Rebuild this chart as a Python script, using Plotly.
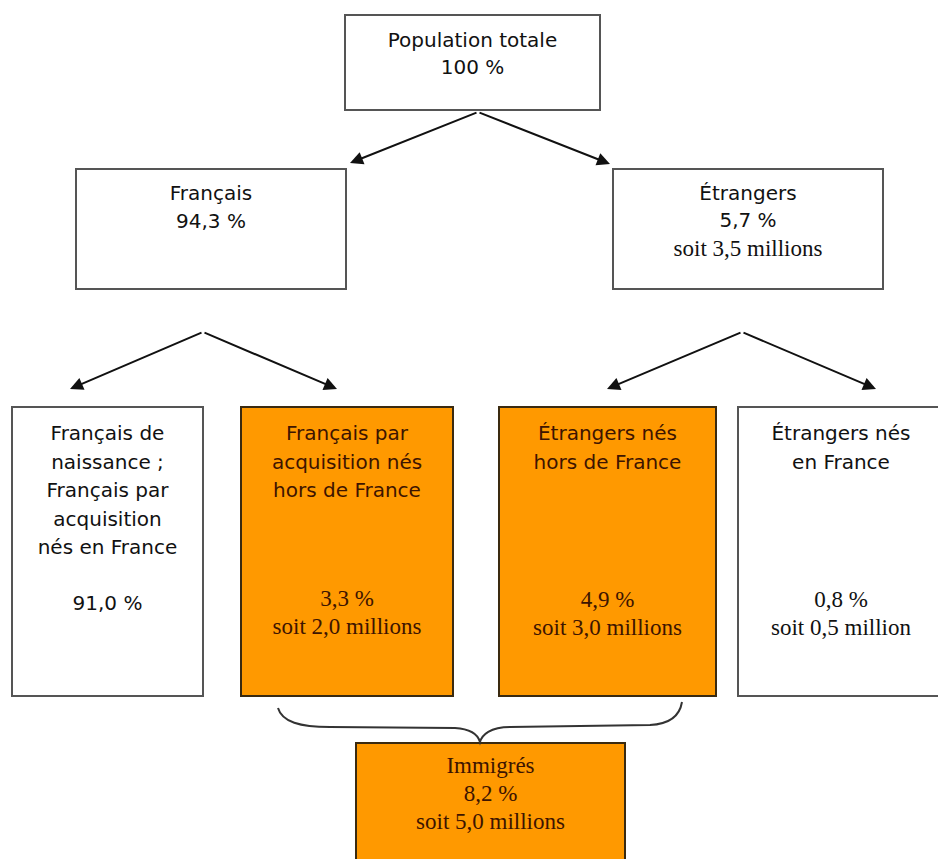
import plotly.graph_objects as go

# ---------------- data ----------------
categories = [
    "Population totale",
    "Français",
    "Étrangers",
    "Français de<br>naissance ;<br>Français par<br>acquisition<br>nés en France",
    "Français par<br>acquisition nés<br>hors de France",
    "Étrangers nés<br>hors de France",
    "Étrangers nés<br>en France",
    "Immigrés",
]
shares = [100, 94.3, 5.7, 91.0, 3.3, 4.9, 0.8, 8.2]
millions = [None, None, 3.5, None, 2.0, 3.0, 0.5, 5.0]
highlight = [False, False, False, False, True, True, False, True]

# ---------------- layout (pixel coordinates of the page) ----------------
W, H = 946, 859
OFF = 8  # default page body margin
boxes = [  # x0, y0, x1, y1
    (345, 15, 600, 110),
    (76, 169, 346, 289),
    (613, 169, 883, 289),
    (12, 407, 203, 696),
    (241, 407, 453, 696),
    (499, 407, 716, 696),
    (738, 407, 960, 696),
    (356, 743, 625, 880),
]
label_y0 = [42, 195, 195, 435, 435, 435, 435, 767]
value_y = [69, 223, 222, 605, 600, 601, 601, 795]
label_serif = [False, False, False, False, False, False, False, True]
value_serif = [False, False, False, False, True, True, True, True]
LINE = 28.5

ORANGE = "#FF9900"
BROWN = "#3d1400"
SANS = "DejaVu Sans"
SERIF = "Liberation Serif"
SANS_SIZE = 20
SERIF_SIZE = 23


def fr(v):
    return f"{v:.1f}".replace(".", ",") if v < 100 else f"{int(v)}"


fig = go.Figure()
shapes = []
for i, (x0, y0, x1, y1) in enumerate(boxes):
    shapes.append(dict(
        type="rect", x0=x0, y0=y0, x1=x1, y1=y1, xref="x", yref="y",
        fillcolor=ORANGE if highlight[i] else "white",
        line=dict(color="#3a2a10" if highlight[i] else "#555555", width=2),
        layer="below",
    ))

for i, (x0, y0, x1, y1) in enumerate(boxes):
    cx = (x0 + min(x1, 944)) / 2
    col = BROWN if highlight[i] else "#111111"
    lines = categories[i].split("<br>")
    fig.add_trace(go.Scatter(
        x=[cx] * len(lines), y=[label_y0[i] + k * LINE for k in range(len(lines))],
        text=lines, mode="text", hoverinfo="skip", showlegend=False,
        textfont=dict(family=SERIF if label_serif[i] else SANS,
                      size=SERIF_SIZE if label_serif[i] else SANS_SIZE, color=col),
    ))
    vals = [fr(shares[i]) + " %"]
    if millions[i] is not None:
        unit = "million" if millions[i] < 1 else "millions"
        vals.append("soit " + fr(millions[i]) + " " + unit)
    serif_flags = [value_serif[i]] + [True] * (len(vals) - 1)
    for k, t in enumerate(vals):
        fig.add_trace(go.Scatter(
            x=[cx], y=[value_y[i] + k * LINE], text=[t], mode="text",
            hoverinfo="skip", showlegend=False,
            textfont=dict(family=SERIF if serif_flags[k] else SANS,
                          size=SERIF_SIZE if serif_flags[k] else SANS_SIZE, color=col),
        ))

# arrows: apex -> tip
arrows = [
    ((478, 112), (350, 163)),
    ((478, 112), (610, 164)),
    ((203, 332), (70, 389)),
    ((203, 332), (337, 389)),
    ((742, 332), (607, 389)),
    ((742, 332), (876, 389)),
]
annotations = []
for (ax_, ay_), (tx, ty) in arrows:
    annotations.append(dict(
        x=tx, y=ty, ax=ax_, ay=ay_, xref="x", yref="y", axref="x", ayref="y",
        showarrow=True, arrowhead=2, arrowsize=1.3, arrowwidth=2,
        arrowcolor="#111111", text="", standoff=0, startstandoff=0,
    ))

# brace
brace = ("M 278 708 C 282 722, 300 727, 330 727 L 455 728 "
         "C 472 729, 478 735, 480 742 "
         "C 482 735, 490 727, 510 727 L 650 725 "
         "C 672 724, 680 714, 682 702")
shapes.append(dict(type="path", path=brace, xref="x", yref="y",
                   line=dict(color="#333333", width=2)))

fig.update_layout(
    width=W, height=H, margin=dict(l=0, r=0, t=0, b=0),
    paper_bgcolor="white", plot_bgcolor="white",
    xaxis=dict(range=[OFF, W + OFF], visible=False, fixedrange=True),
    yaxis=dict(range=[H + OFF, OFF], visible=False, fixedrange=True),
    shapes=shapes, annotations=annotations,
)
fig.write_html("out.html")
